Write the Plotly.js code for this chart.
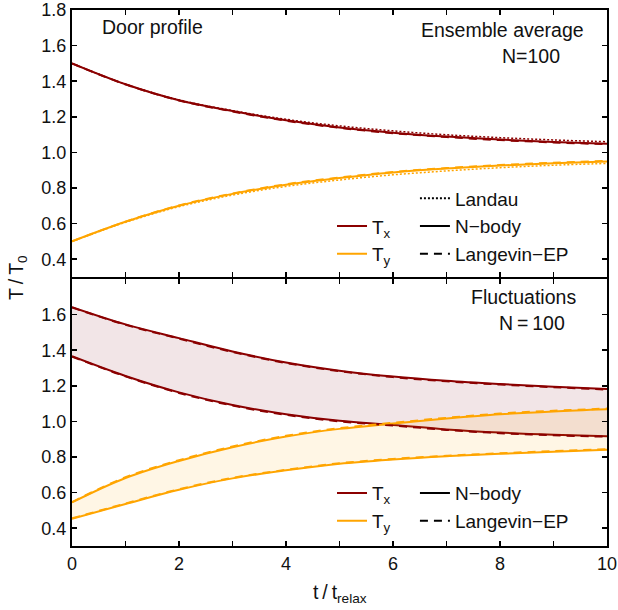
<!DOCTYPE html>
<html>
<head>
<meta charset="utf-8">
<script src="https://cdn.plot.ly/plotly-3.0.1.min.js"></script>
<style>
html,body{margin:0;padding:0;background:#fff;}
#chart{width:618px;height:610px;}
</style>
</head>
<body>
<div id="chart"></div>
<script>
// ---------- data ----------
const t = [0, 1, 2, 3, 4, 5, 6, 7, 8, 9, 10];

// Top panel: ensemble average, N = 100
const avgTxLandau   = [1.500, 1.383, 1.295, 1.235, 1.186, 1.149, 1.121, 1.099, 1.083, 1.070, 1.060];
const avgTyLandau   = [0.500, 0.607, 0.695, 0.760, 0.809, 0.845, 0.874, 0.896, 0.914, 0.928, 0.938];
const avgTxNbody    = [1.500, 1.383, 1.293, 1.232, 1.180, 1.140, 1.111, 1.089, 1.072, 1.059, 1.049];
const avgTyNbody    = [0.500, 0.610, 0.700, 0.767, 0.818, 0.856, 0.887, 0.909, 0.926, 0.939, 0.949];
const avgTxLangevin = [1.500, 1.382, 1.292, 1.230, 1.178, 1.138, 1.108, 1.086, 1.069, 1.056, 1.046];
const avgTyLangevin = [0.500, 0.611, 0.702, 0.769, 0.821, 0.859, 0.890, 0.912, 0.929, 0.942, 0.952];

// Bottom panel: fluctuation bands (mean +/- std), N = 100
const txUpperNbody    = [1.642, 1.545, 1.468, 1.393, 1.331, 1.285, 1.252, 1.228, 1.210, 1.195, 1.182];
const txLowerNbody    = [1.366, 1.255, 1.163, 1.092, 1.040, 1.003, 0.980, 0.955, 0.937, 0.925, 0.917];
const tyUpperNbody    = [0.545, 0.682, 0.778, 0.855, 0.915, 0.958, 0.988, 1.016, 1.040, 1.056, 1.068];
const tyLowerNbody    = [0.453, 0.536, 0.616, 0.680, 0.725, 0.762, 0.786, 0.804, 0.818, 0.830, 0.841];
const txUpperLangevin = [1.640, 1.543, 1.465, 1.390, 1.328, 1.282, 1.249, 1.225, 1.207, 1.192, 1.179];
const txLowerLangevin = [1.364, 1.253, 1.160, 1.089, 1.037, 1.000, 0.977, 0.952, 0.934, 0.922, 0.914];
const tyUpperLangevin = [0.547, 0.686, 0.782, 0.859, 0.919, 0.962, 0.992, 1.020, 1.044, 1.060, 1.072];
const tyLowerLangevin = [0.455, 0.539, 0.619, 0.683, 0.728, 0.765, 0.789, 0.807, 0.821, 0.833, 0.844];

// Tick labels
const xTickVals = [0, 2, 4, 6, 8, 10];
const xTickText = ['0', '2', '4', '6', '8', '10'];
const yTopTickVals = [0.4, 0.6, 0.8, 1.0, 1.2, 1.4, 1.6, 1.8];
const yTopTickText = ['0.4', '0.6', '0.8', '1.0', '1.2', '1.4', '1.6', '1.8'];
const yBotTickVals = [0.4, 0.6, 0.8, 1.0, 1.2, 1.4, 1.6];
const yBotTickText = ['0.4', '0.6', '0.8', '1.0', '1.2', '1.4', '1.6'];

// ---------- styles ----------
const TX = '#8b0000';
const TY = '#ffa500';
const TXFILL = 'rgba(128,0,20,0.10)';
const TYFILL = 'rgba(255,165,0,0.10)';
const FONT = 'Liberation Sans, Arial, Helvetica, sans-serif';
const DOT = '2px,2px';
const DASH = '8px,6px';
const GAP = 1 / 536; // half of a 2px seam so both panel frames share one line

function line(x, y, color, dash, width, xa, ya, extra) {
  return Object.assign({
    x: x, y: y, type: 'scatter', mode: 'lines',
    line: {color: color, width: width, dash: dash, shape: 'spline', smoothing: 1},
    xaxis: xa, yaxis: ya, showlegend: false, hoverinfo: 'skip'
  }, extra || {});
}
function key(name, color, dash, legend) {
  return {
    x: [null], y: [null], type: 'scatter', mode: 'lines', name: name,
    line: {color: color, width: 2, dash: dash},
    xaxis: 'x2', yaxis: 'y2', showlegend: true, legend: legend, hoverinfo: 'skip'
  };
}

const data = [
  // bottom panel bands
  line(t, txLowerNbody, TX, 'solid', 2, 'x', 'y'),
  line(t, txUpperNbody, TX, 'solid', 2, 'x', 'y', {fill: 'tonexty', fillcolor: TXFILL}),
  line(t, tyLowerNbody, TY, 'solid', 2, 'x', 'y'),
  line(t, tyUpperNbody, TY, 'solid', 2, 'x', 'y', {fill: 'tonexty', fillcolor: TYFILL}),
  line(t, txLowerLangevin, TX, DASH, 2, 'x', 'y'),
  line(t, txUpperLangevin, TX, DASH, 2, 'x', 'y'),
  line(t, tyLowerLangevin, TY, DASH, 2, 'x', 'y'),
  line(t, tyUpperLangevin, TY, DASH, 2, 'x', 'y'),
  // top panel
  line(t, avgTxLandau, TX, DOT, 1.5, 'x2', 'y2'),
  line(t, avgTyLandau, TY, DOT, 1.5, 'x2', 'y2'),
  line(t, avgTxNbody, TX, 'solid', 2, 'x2', 'y2'),
  line(t, avgTyNbody, TY, 'solid', 2, 'x2', 'y2'),
  line(t, avgTxLangevin, TX, DASH, 2, 'x2', 'y2'),
  line(t, avgTyLangevin, TY, DASH, 2, 'x2', 'y2'),
  // legend keys
  key('T<sub>x</sub>', TX, 'solid', 'legend'),
  key('T<sub>y</sub>', TY, 'solid', 'legend'),
  key('Landau', '#000', DOT, 'legend2'),
  key('N\u2212body', '#000', 'solid', 'legend2'),
  key('Langevin\u2212EP', '#000', DASH, 'legend2'),
  key('T<sub>x</sub>', TX, 'solid', 'legend3'),
  key('T<sub>y</sub>', TY, 'solid', 'legend3'),
  key('N\u2212body', '#000', 'solid', 'legend4'),
  key('Langevin\u2212EP', '#000', DASH, 'legend4')
];

const axCommon = {
  ticks: 'inside', ticklen: 5, tickwidth: 1.5, tickcolor: '#000',
  showline: true, linewidth: 2, linecolor: '#000', mirror: 'ticks',
  showgrid: false, zeroline: false,
  tickfont: {family: FONT, size: 18, color: '#111'}
};
const xMinor = {dtick: 1, tick0: 0, ticks: 'inside', ticklen: 5, tickwidth: 1.5, tickcolor: '#000', showgrid: false};

function legendAt(x, y) {
  return {
    x: x, y: y, xanchor: 'left', yanchor: 'top', xref: 'paper', yref: 'paper',
    bgcolor: 'rgba(0,0,0,0)', borderwidth: 0, tracegroupgap: 0, traceorder: 'normal',
    font: {family: FONT, size: 19, color: '#111'}, itemwidth: 30
  };
}
function note(text, x, y, xanchor, extra) {
  return Object.assign({
    text: text, x: x, y: y, xref: 'paper', yref: 'paper',
    xanchor: xanchor, yanchor: 'middle', showarrow: false,
    font: {family: FONT, size: 19.5, color: '#111'}
  }, extra || {});
}

const layout = {
  width: 618, height: 610,
  margin: {l: 72, r: 11, t: 10, b: 64},
  paper_bgcolor: '#fff', plot_bgcolor: '#fff',
  showlegend: true,
  xaxis: Object.assign({}, axCommon, {domain: [0, 1], anchor: 'y', range: [0, 10],
    tickmode: 'array', tickvals: xTickVals, ticktext: xTickText, minor: xMinor}),
  xaxis2: Object.assign({}, axCommon, {domain: [0, 1], anchor: 'y2', range: [0, 10], matches: 'x',
    tickmode: 'array', tickvals: xTickVals, showticklabels: false, minor: xMinor}),
  yaxis: Object.assign({}, axCommon, {domain: [0, 0.5 - GAP], anchor: 'x', range: [0.3, 1.8],
    tickmode: 'array', tickvals: yBotTickVals, ticktext: yBotTickText}),
  yaxis2: Object.assign({}, axCommon, {domain: [0.5 + GAP, 1], anchor: 'x2', range: [0.3, 1.8],
    tickmode: 'array', tickvals: yTopTickVals, ticktext: yTopTickText}),
  legend: legendAt(0.486, 0.632),
  legend2: legendAt(0.641, 0.684),
  legend3: legendAt(0.486, 0.134),
  legend4: legendAt(0.641, 0.134),
  annotations: [
    note('Door profile', 0.0523, 0.968, 'left'),
    note('Ensemble average', 0.9607, 0.963, 'right'),
    note('N=100', 0.9159, 0.914, 'right'),
    note('Fluctuations', 0.9458, 0.4646, 'right'),
    note('N\u2009=\u2009100', 0.9252, 0.416, 'right'),
    note('T\u2009/\u2009T<sub>0</sub>', -0.1028, 0.5, 'center', {textangle: -90}),
    note('t\u2009/\u2009t<sub>relax</sub>', 0.5, -0.0877, 'center')
  ]
};

Plotly.newPlot('chart', data, layout, {staticPlot: true, displayModeBar: false});
</script>
</body>
</html>
